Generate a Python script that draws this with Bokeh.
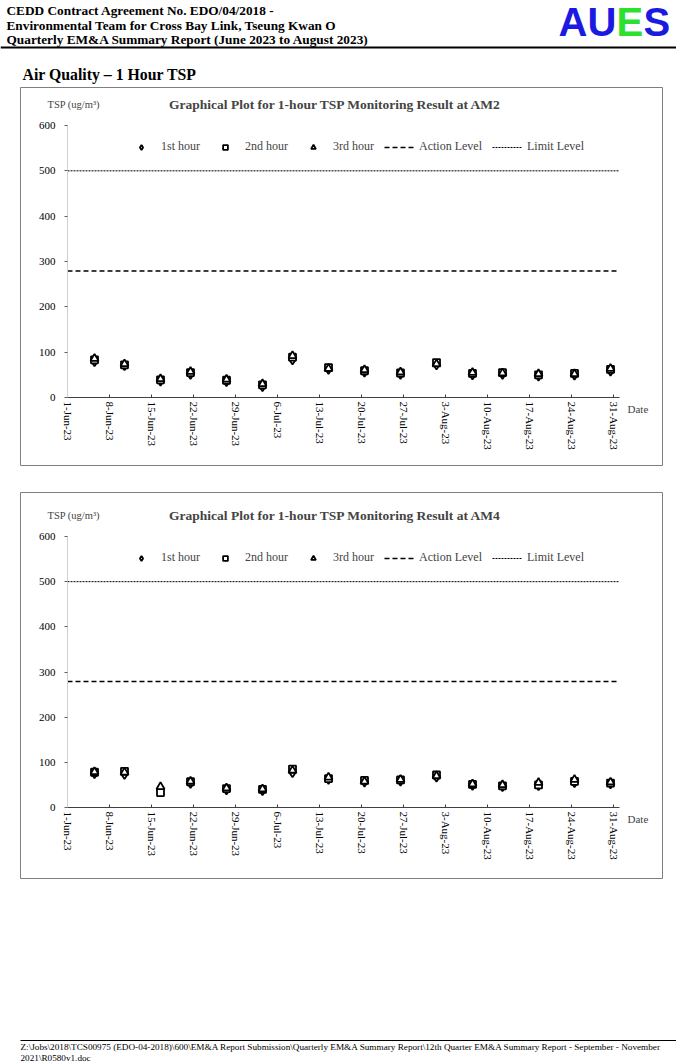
import math
from datetime import datetime, timedelta
from bokeh.plotting import figure
from bokeh.models import (Range1d, FixedTicker, CustomJSTickFormatter, Legend, LegendItem,
                          Label, Spacer)
from bokeh.layouts import column
from bokeh.core.properties import value
from bokeh.embed import file_html
from bokeh.resources import INLINE

# ---------------- data ----------------
sample_dates = ["2023-06-05", "2023-06-10", "2023-06-16", "2023-06-21", "2023-06-27",
                "2023-07-03", "2023-07-08", "2023-07-14", "2023-07-20", "2023-07-26",
                "2023-08-01", "2023-08-07", "2023-08-12", "2023-08-18", "2023-08-24",
                "2023-08-30"]

am2_1st = [80, 71, 37, 52, 36, 25, 84, 63, 57, 52, 73, 51, 52, 48, 50, 59]
am2_2nd = [83, 72, 39, 55, 38, 28, 89, 66, 59, 54, 77, 53, 55, 50, 53, 62]
am2_3rd = [86, 74, 41, 57, 40, 30, 92, 64, 61, 56, 74, 55, 54, 52, 52, 64]

am4_1st = [76, 74, 40, 54, 40, 38, 78, 63, 57, 59, 68, 50, 47, 49, 56, 53]
am4_2nd = [78, 80, 33, 57, 42, 40, 85, 64, 60, 61, 72, 51, 48, 50, 58, 54]
am4_3rd = [79, 78, 46, 58, 43, 41, 82, 67, 58, 62, 70, 52, 50, 55, 62, 56]

action_level = [279, 279]
limit_level = [500, 500]

tick_dates = ["2023-06-01", "2023-06-08", "2023-06-15", "2023-06-22", "2023-06-29",
              "2023-07-06", "2023-07-13", "2023-07-20", "2023-07-27", "2023-08-03",
              "2023-08-10", "2023-08-17", "2023-08-24", "2023-08-31"]
y_ticks = [0, 100, 200, 300, 400, 500, 600]
y_min, y_max = 0, 600
x_start, x_end = "2023-06-01", "2023-09-01"
series_labels = ["1st hour", "2nd hour", "3rd hour", "Action Level", "Limit Level"]

SERIF = "Liberation Serif"
W = 676


def to_dt(s):
    return datetime.strptime(s, "%Y-%m-%d")


def ms(d):
    return (d - datetime(1970, 1, 1)).total_seconds() * 1000.0


x_pts = [to_dt(d) + timedelta(hours=12) for d in sample_dates]
x0, x1 = to_dt(x_start), to_dt(x_end)
x0_ms, x1_ms = ms(x0), ms(x1)

fmt = CustomJSTickFormatter(code="""
const m = ["Jan","Feb","Mar","Apr","May","Jun","Jul","Aug","Sep","Oct","Nov","Dec"];
const d = new Date(tick);
return d.getUTCDate() + "-" + m[d.getUTCMonth()] + "-" + String(d.getUTCFullYear()).slice(2);
""")

# page-pixel layout of the plotting area (x: 1-Jun .. 1-Sep)
AX_L, AX_R = 67, 619
BOX_L, BOX_R = 20, 662
PX_PER_MS = (AX_R - AX_L) / (x1_ms - x0_ms)


def no_align(p):
    if "frame_align" in p.properties():
        p.frame_align = False


def make_chart(station, h1, h2, h3, box_top, box_bot, y_top_px, y_zero_px, legend_y):
    height = box_bot - box_top + 1
    k = (y_zero_px - y_top_px) / (y_max - y_min)

    def px(xp):
        return x0_ms + (xp - AX_L) / PX_PER_MS

    def py(yp):
        return y_min + (y_zero_px - yp) / k

    p = figure(width=W, height=height, x_axis_type="datetime",
               x_range=Range1d(px(BOX_L), px(BOX_R)),
               y_range=Range1d(py(box_bot), py(box_top)),
               output_backend="svg", toolbar_location=None,
               min_border_left=BOX_L, min_border_right=W - BOX_R,
               min_border_top=0, min_border_bottom=1)
    no_align(p)
    p.outline_line_color = "#7f7f7f"
    p.outline_line_width = 1
    p.grid.visible = False
    p.background_fill_color = "white"
    p.border_fill_color = "white"

    xa = p.xaxis[0]
    xa.fixed_location = y_min
    xa.bounds = (x0_ms, x1_ms)
    xa.ticker = FixedTicker(ticks=[ms(to_dt(t)) for t in tick_dates])
    xa.formatter = fmt
    xa.major_label_orientation = -math.pi / 2
    xa.major_label_text_font = SERIF
    xa.major_label_text_font_size = "11px"
    xa.major_label_text_color = "black"
    xa.axis_line_color = "#404040"
    xa.major_tick_in = 3
    xa.major_tick_out = 0
    xa.major_tick_line_color = "#404040"
    xa.minor_tick_line_color = None
    xa.major_label_standoff = 4

    ya = p.yaxis[0]
    ya.fixed_location = x0_ms
    ya.bounds = (y_min, y_max)
    ya.ticker = FixedTicker(ticks=y_ticks)
    ya.major_label_text_font = SERIF
    ya.major_label_text_font_size = "11px"
    ya.major_label_text_color = "black"
    ya.axis_line_color = "#d0d0d0"
    ya.major_tick_out = 3
    ya.major_tick_in = 0
    ya.major_tick_line_color = "#606060"
    ya.minor_tick_line_color = None
    ya.major_label_standoff = 9

    mk = dict(fill_color="white", line_color="black", line_width=1.8)
    r1 = p.scatter(x_pts, h1, marker="diamond", size=10, **mk)
    r2 = p.scatter(x_pts, h2, marker="square", size=7, **mk)
    r3 = p.scatter(x_pts, h3, marker="triangle", size=8, **mk)
    ra = p.line([x0, x1], action_level, line_color="black", line_width=1.5, line_dash="5 3")
    rl = p.line([x0, x1], limit_level, line_color="black", line_width=1, line_dash="2 1")

    legend = Legend(items=[LegendItem(label=lab, renderers=[r])
                           for lab, r in zip(series_labels, [r1, r2, r3, ra, rl])],
                    location=(126 - BOX_L, legend_y), orientation="horizontal",
                    border_line_color=None, background_fill_alpha=0,
                    padding=0, margin=0, spacing=10, label_standoff=5,
                    glyph_width=30, glyph_height=12, label_height=12,
                    label_text_font=SERIF, label_text_font_size="12px")
    p.add_layout(legend)

    title_y = y_top_px - 21
    p.add_layout(Label(x=px(335), y=py(title_y),
                       text="Graphical Plot for 1-hour TSP Monitoring Result at " + station,
                       text_align="center", text_baseline="middle",
                       text_font=SERIF, text_font_style="bold", text_font_size="13.5px"))
    p.add_layout(Label(x=px(47), y=py(title_y - 0.5),
                       text="TSP (ug/m\u00b3)", text_align="left", text_baseline="middle",
                       text_font=SERIF, text_font_size="10.5px"))
    p.add_layout(Label(x=px(627), y=py(y_zero_px + 11),
                       text="Date", text_align="left", text_baseline="middle",
                       text_font=SERIF, text_font_size="11px"))
    return p


def page_fig(height, top, bottom):
    p = figure(width=W, height=height, x_range=Range1d(0, W), y_range=Range1d(bottom, top),
               output_backend="svg", toolbar_location=None, min_border=0)
    no_align(p)
    p.axis.visible = False
    p.grid.visible = False
    p.outline_line_color = None
    return p


# ---------------- header ----------------
hdr = page_fig(87, 0, 87)
hdr_lines = ["CEDD Contract Agreement No. EDO/04/2018 -",
             "Environmental Team for Cross Bay Link, Tseung Kwan O",
             "Quarterly EM&A Summary Report (June 2023 to August 2023)"]
hdr.text(x=[6, 6, 6], y=[10, 24.5, 38.5], text=hdr_lines, text_font=value(SERIF),
         text_font_style="bold", text_font_size="13.3px", text_baseline="middle",
         text_color="black")
logo_letters = ["A", "U", "E", "S"]
logo_colors = ["#1a1ae0", "#1a1ae0", "#2ee02e", "#1a1ae0"]
logo_x = [558, 587, 616, 643]
hdr.text(x=logo_x, y=[21.5] * 4, text=logo_letters, text_color=logo_colors,
         text_font=value("Liberation Sans"), text_font_style="bold", text_font_size="40px",
         text_baseline="middle")
hdr.line([0, 676], [47, 47], line_color="black", line_width=2)
hdr.text(x=[22], y=[73.5], text=["Air Quality \u2013 1 Hour TSP"], text_font=value(SERIF),
         text_font_style="bold", text_font_size="15.8px", text_baseline="middle")

# ---------------- charts ----------------
c1 = make_chart("AM2", am2_1st, am2_2nd, am2_3rd, 87, 465, 125, 397, 311)
gap = Spacer(width=W, height=26)
c2 = make_chart("AM4", am4_1st, am4_2nd, am4_3rd, 492, 878, 536, 807, 313)

# ---------------- footer ----------------
ftr = page_fig(185, 879, 1064)
ftr.line([20, 676], [1040, 1040], line_color="black", line_width=1)
ftr_lines = [r"Z:\Jobs\2018\TCS00975 (EDO-04-2018)\600\EM&A Report Submission\Quarterly EM&A Summary Report\12th Quarter EM&A Summary Report - September - November",
             r"2021\R0580v1.doc"]
ftr.text(x=[20, 20], y=[1046, 1057], text=ftr_lines, text_font=value(SERIF),
         text_font_size="9.2px", text_baseline="middle", text_color="black")

layout = column(hdr, c1, gap, c2, ftr, spacing=0)
open("out.html", "w").write(file_html(layout, INLINE))
